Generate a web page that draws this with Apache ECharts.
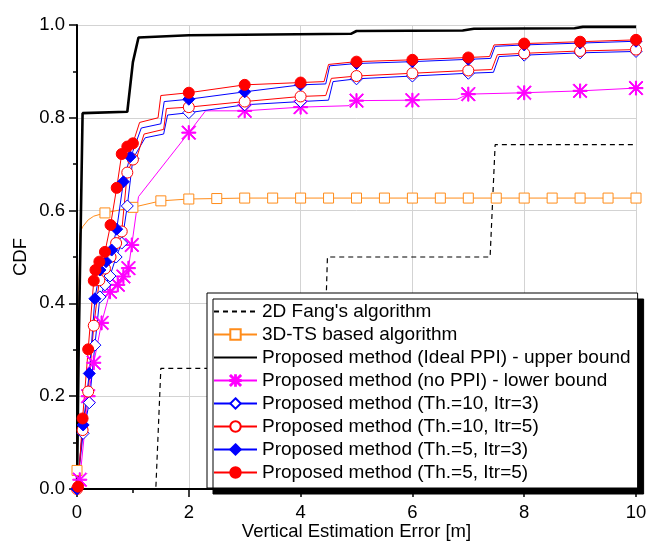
<!DOCTYPE html>
<html><head><meta charset="utf-8">
<script src="https://cdn.jsdelivr.net/npm/echarts@6/dist/echarts.min.js"></script>
<style>html,body{margin:0;padding:0;background:#fff}#c{width:648px;height:542px}</style>
</head><body><div id="c"></div>
<script>
// ---- data ----
const xTickLabels = ['0','2','4','6','8','10'];
const yTickLabels = ['0.0','0.2','0.4','0.6','0.8','1.0'];
const seriesNames = [
  "2D Fang's algorithm",
  "3D-TS based algorithm",
  "Proposed method (Ideal PPI) - upper bound",
  "Proposed method (no PPI) - lower bound",
  "Proposed method (Th.=10, Itr=3)",
  "Proposed method (Th.=10, Itr=5)",
  "Proposed method (Th.=5, Itr=3)",
  "Proposed method (Th.=5, Itr=5)"
];
// 2D Fang (no markers)
const fangPts = [[0,0],[1.41,0],[1.5,0.26],[4.42,0.26],[4.48,0.5],[7.39,0.5],[7.48,0.742],[10,0.742]];
// 3D-TS
const tsMarkers = [[0,0.04],[0.5,0.595],[1,0.607],[1.5,0.621],[2,0.625],[2.5,0.626],[3,0.627],[3.5,0.627],[4,0.627],[4.5,0.627],[5,0.627],[5.5,0.627],[6,0.627],[6.5,0.627],[7,0.627],[7.5,0.627],[8,0.627],[8.5,0.627],[9,0.627],[9.5,0.627],[10,0.627]];
const tsCorners = [[0.05,0.55],[0.1,0.565],[0.2,0.58],[0.3,0.588]];
// Ideal PPI (no markers)
const idealPts = [[0,0],[0.03,0.3],[0.1,0.81],[0.9,0.813],[1.0,0.92],[1.1,0.973],[2,0.978],[4.9,0.981],[5.0,0.987],[6.9,0.988],[7.1,0.992],[8.9,0.993],[9.05,0.996],[10,0.996]];
// no PPI
const noMarkers = [[0.05,0.02],[0.2,0.2],[0.3,0.272],[0.44,0.358],[0.59,0.425],[0.73,0.44],[0.83,0.458],[0.92,0.476],[0.98,0.526],[2,0.768],[3,0.815],[4,0.823],[5,0.837],[6,0.838],[7,0.851],[8,0.854],[9,0.858],[10,0.864]];
const noCorners = [[0,0],[1.1,0.63],[2.3,0.815],[4.85,0.826],[6.8,0.84]];
// Th=10, Itr=3
const aMarkers = [[0,0],[0.11,0.12],[0.22,0.186],[0.32,0.31],[0.41,0.414],[0.5,0.44],[0.59,0.459],[0.7,0.5],[0.8,0.53],[0.9,0.61],[1.0,0.712],[2,0.811],[3,0.828],[4,0.835],[5,0.884],[6,0.89],[7,0.896],[8,0.935],[9,0.94],[10,0.943]];
const aCorners = [[1.05,0.722],[1.22,0.757],[1.55,0.765],[1.62,0.806],[4.5,0.838],[4.58,0.878],[7.45,0.898],[7.55,0.932]];
// Th=10, Itr=5
const bMarkers = [[0,0],[0.1,0.127],[0.2,0.21],[0.3,0.352],[0.4,0.45],[0.5,0.475],[0.6,0.5],[0.7,0.53],[0.8,0.555],[0.9,0.682],[1.0,0.71],[2,0.823],[3,0.835],[4,0.846],[5,0.89],[6,0.896],[7,0.902],[8,0.939],[9,0.944],[10,0.947]];
const bCorners = [[1.07,0.715],[1.2,0.765],[1.55,0.775],[1.6,0.82],[4.45,0.848],[4.55,0.885],[7.42,0.904],[7.52,0.936]];
// Th=5, Itr=3
const cMarkers = [[0,0],[0.11,0.138],[0.22,0.249],[0.32,0.41],[0.41,0.472],[0.52,0.49],[0.62,0.515],[0.71,0.56],[0.83,0.662],[0.95,0.716],[2,0.84],[3,0.856],[4,0.871],[5,0.917],[6,0.921],[7,0.926],[8,0.957],[9,0.961],[10,0.965]];
const cCorners = [[1.0,0.728],[1.15,0.778],[1.5,0.787],[1.56,0.835],[4.45,0.873],[4.52,0.912],[7.4,0.928],[7.48,0.954]];
// Th=5, Itr=5
const dMarkers = [[0.02,0.005],[0.1,0.152],[0.2,0.301],[0.3,0.449],[0.33,0.472],[0.4,0.49],[0.5,0.511],[0.6,0.569],[0.71,0.649],[0.8,0.722],[0.9,0.738],[1.0,0.745],[2,0.854],[3,0.871],[4,0.876],[5,0.921],[6,0.925],[7,0.93],[8,0.96],[9,0.964],[10,0.968]];
const dCorners = [[1.12,0.79],[1.45,0.80],[1.5,0.848],[4.42,0.878],[4.5,0.915],[7.38,0.932],[7.46,0.957]];

// ---- build ----
const FONT = "'Liberation Sans', Arial, Helvetica, sans-serif";
const STAR = 'path://M46 0L54 0L54 100L46 100Z M0 46L100 46L100 54L0 54Z M6 0L100 94L94 100L0 6Z M94 0L100 6L6 100L0 94Z';
function build(markers, corners) {
  const all = markers.map(p => ({v: p, m: true})).concat(corners.map(p => ({v: p, m: false})));
  all.sort((a, b) => a.v[0] - b.v[0]);
  return all.map(o => o.m ? {value: o.v} : {value: o.v, symbol: 'none'});
}
function plain(pts) { return pts.map(p => ({value: p})); }
function mk(name, data, color, symbol, size, lineStyle, fill) {
  return {
    name, type: 'line', data, symbol, symbolSize: size, showSymbol: symbol !== 'none',
    symbolKeepAspect: true, animation: false, silent: true,
    lineStyle: Object.assign({color: color, width: 1}, lineStyle || {}),
    itemStyle: {color: fill || color, borderColor: color, borderWidth: 1},
    emphasis: {disabled: true}
  };
}
const series = [
  mk(seriesNames[0], plain(fangPts), '#000', 'none', 0, {type: [5, 4], width: 1.2}),
  mk(seriesNames[1], build(tsMarkers, tsCorners), '#ff8c1a', 'rect', 10, {}, '#fff'),
  mk(seriesNames[2], plain(idealPts), '#000', 'none', 0, {width: 2.6}),
  mk(seriesNames[3], build(noMarkers, noCorners), '#ff00ff', STAR, 14),
  mk(seriesNames[4], build(aMarkers, aCorners), '#0000ff', 'diamond', 12, {}, '#fff'),
  mk(seriesNames[5], build(bMarkers, bCorners), '#ff0000', 'circle', 11, {}, '#fff'),
  mk(seriesNames[6], build(cMarkers, cCorners), '#0000ff', 'diamond', 12),
  mk(seriesNames[7], build(dMarkers, dCorners), '#ff0000', 'circle', 11)
];
const legendData = seriesNames.map((n, i) =>
  (i === 0 || i === 2) ? {name: n, itemStyle: {opacity: 0}} : {name: n});

const chart = echarts.init(document.getElementById('c'), null, {renderer: 'canvas'});
chart.setOption({
  backgroundColor: '#fff',
  animation: false,
  textStyle: {fontFamily: FONT},
  grid: {left: 77, right: 12, top: 25, bottom: 53, containLabel: false, outerBoundsMode: 'none'},
  xAxis: {
    type: 'value', min: 0, max: 10, interval: 2,
    name: 'Vertical Estimation Error [m]', nameLocation: 'middle', nameGap: 33,
    nameMoveOverlap: false,
    nameTextStyle: {fontSize: 18.5, color: '#000', fontFamily: FONT},
    axisLine: {show: true, lineStyle: {color: '#000', width: 2}},
    axisTick: {show: true, inside: false, length: 8, lineStyle: {color: '#000', width: 1.5}},
    minorTick: {show: true, splitNumber: 2, length: 4, lineStyle: {color: '#000', width: 1.5}},
    axisLabel: {fontSize: 18.5, color: '#000', margin: 14, fontFamily: FONT,
      formatter: v => xTickLabels[Math.round(v / 2)]},
    splitLine: {show: true, lineStyle: {color: '#d3d3d3', width: 1}}
  },
  yAxis: {
    type: 'value', min: 0, max: 1, interval: 0.2,
    name: 'CDF', nameLocation: 'middle', nameGap: 47, nameRotate: 90,
    nameMoveOverlap: false,
    nameTextStyle: {fontSize: 18.5, color: '#000', fontFamily: FONT},
    axisLine: {show: true, lineStyle: {color: '#000', width: 2}},
    axisTick: {show: true, inside: false, length: 8, lineStyle: {color: '#000', width: 1.5}},
    minorTick: {show: true, splitNumber: 2, length: 4, lineStyle: {color: '#000', width: 1.5}},
    axisLabel: {fontSize: 18.5, color: '#000', margin: 12, fontFamily: FONT,
      formatter: v => yTickLabels[Math.round(v * 5)]},
    splitLine: {show: true, lineStyle: {color: '#d3d3d3', width: 1}}
  },
  legend: {
    show: true, orient: 'vertical', left: 207, top: 293,
    data: legendData,
    itemWidth: 43, itemHeight: 13, itemGap: 4,
    padding: [9, 7, 6, 6],
    backgroundColor: '#fff', borderColor: '#000', borderWidth: 1,
    shadowColor: '#000', shadowBlur: 0, shadowOffsetX: 6, shadowOffsetY: 6,
    textStyle: {fontSize: 19, color: '#000', fontFamily: FONT, padding: [0, 0, 0, 0]},
    selectedMode: false
  },
  series
});
</script></body></html>
